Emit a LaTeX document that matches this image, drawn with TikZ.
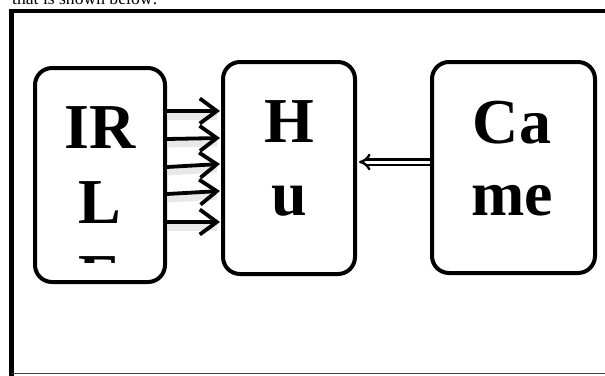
\documentclass[tikz,border=0pt]{standalone}
\usepackage{fontspec}
\setmainfont{Liberation Serif}
\usetikzlibrary{arrows.meta}
\begin{document}
\begin{tikzpicture}[x=1pt,y=-1pt,
  block/.style={draw=black, line width=4pt, rounded corners=17pt, fill=white,
                minimum width=#1, inner sep=0pt},
  label/.style={font=\fontsize{64}{74}\selectfont\bfseries, inner sep=0pt, anchor=base},
  feed/.style={line width=3.8pt, line cap=round,
               -{Straight Barb[length=17pt,width=25pt,line width=3.8pt]}},
  feedshade/.style={line width=7pt, draw=black!30, opacity=0.3},
  link/.style={double=white, double distance=3pt, line width=2.4pt,
               -{Implies[length=8pt,width=14pt]}}]
\useasboundingbox (0,0) rectangle (605,375);
\clip (0,0) rectangle (605,375);

% caption line above the frame
\node[font=\fontsize{17.6}{20}\selectfont, anchor=base west, inner sep=0pt]
  (cap) at (12,4) {that is shown below:};

% outer frame
\draw[line width=4.5pt] (11.5,376) -- (11.5,10.8) -- (610,10.8);
\draw[line width=1pt, draw=black!75] (11.5,373.8) -- (610,373.8);

% blocks
\node[block=130pt, minimum height=214pt] (ir)  at (100,175) {};
\node[block=132pt, minimum height=212pt] (hub) at (289,168) {};
\node[block=163pt, minimum height=211pt] (cam) at (513.5,167.5) {};

% block texts
\begin{scope}
  \clip (40,70) rectangle (160,262.5);
  \node[label] (irA) at (100,148) {IR};
  \node[label] (irB) at (100,223) {L};
  \node[label] (irC) at (100,298) {E};
\end{scope}
\node[label] (huA) at (289,142) {H};
\node[label] (huB) at (289,215) {u};
\node[label] (caA) at (512,143) {Ca};
\node[label] (caB) at (512,215) {me};

% five sensor lines into the hub, with a soft shade below each
\foreach \i/\ya/\yb in {1/111/111, 2/139/138, 3/167/164, 4/194/191, 5/222/222}{
  \coordinate (s\i) at (ir.east |- 0,\ya);
  \coordinate (t\i) at (hub.west |- 0,\yb);
  \draw[feedshade] ([shift={(1,5)}]s\i) -- ([shift={(-4,5)}]t\i);
}
\foreach \i in {1,...,5}{
  \draw[feed] (s\i) -- ([xshift=-1pt]t\i);
}

% camera link into the hub
\coordinate (c1) at (cam.west |- 0,162);
\coordinate (c2) at (hub.east |- 0,162);
\draw[link] (c1) -- ([xshift=2pt]c2);
\end{tikzpicture}
\end{document}
